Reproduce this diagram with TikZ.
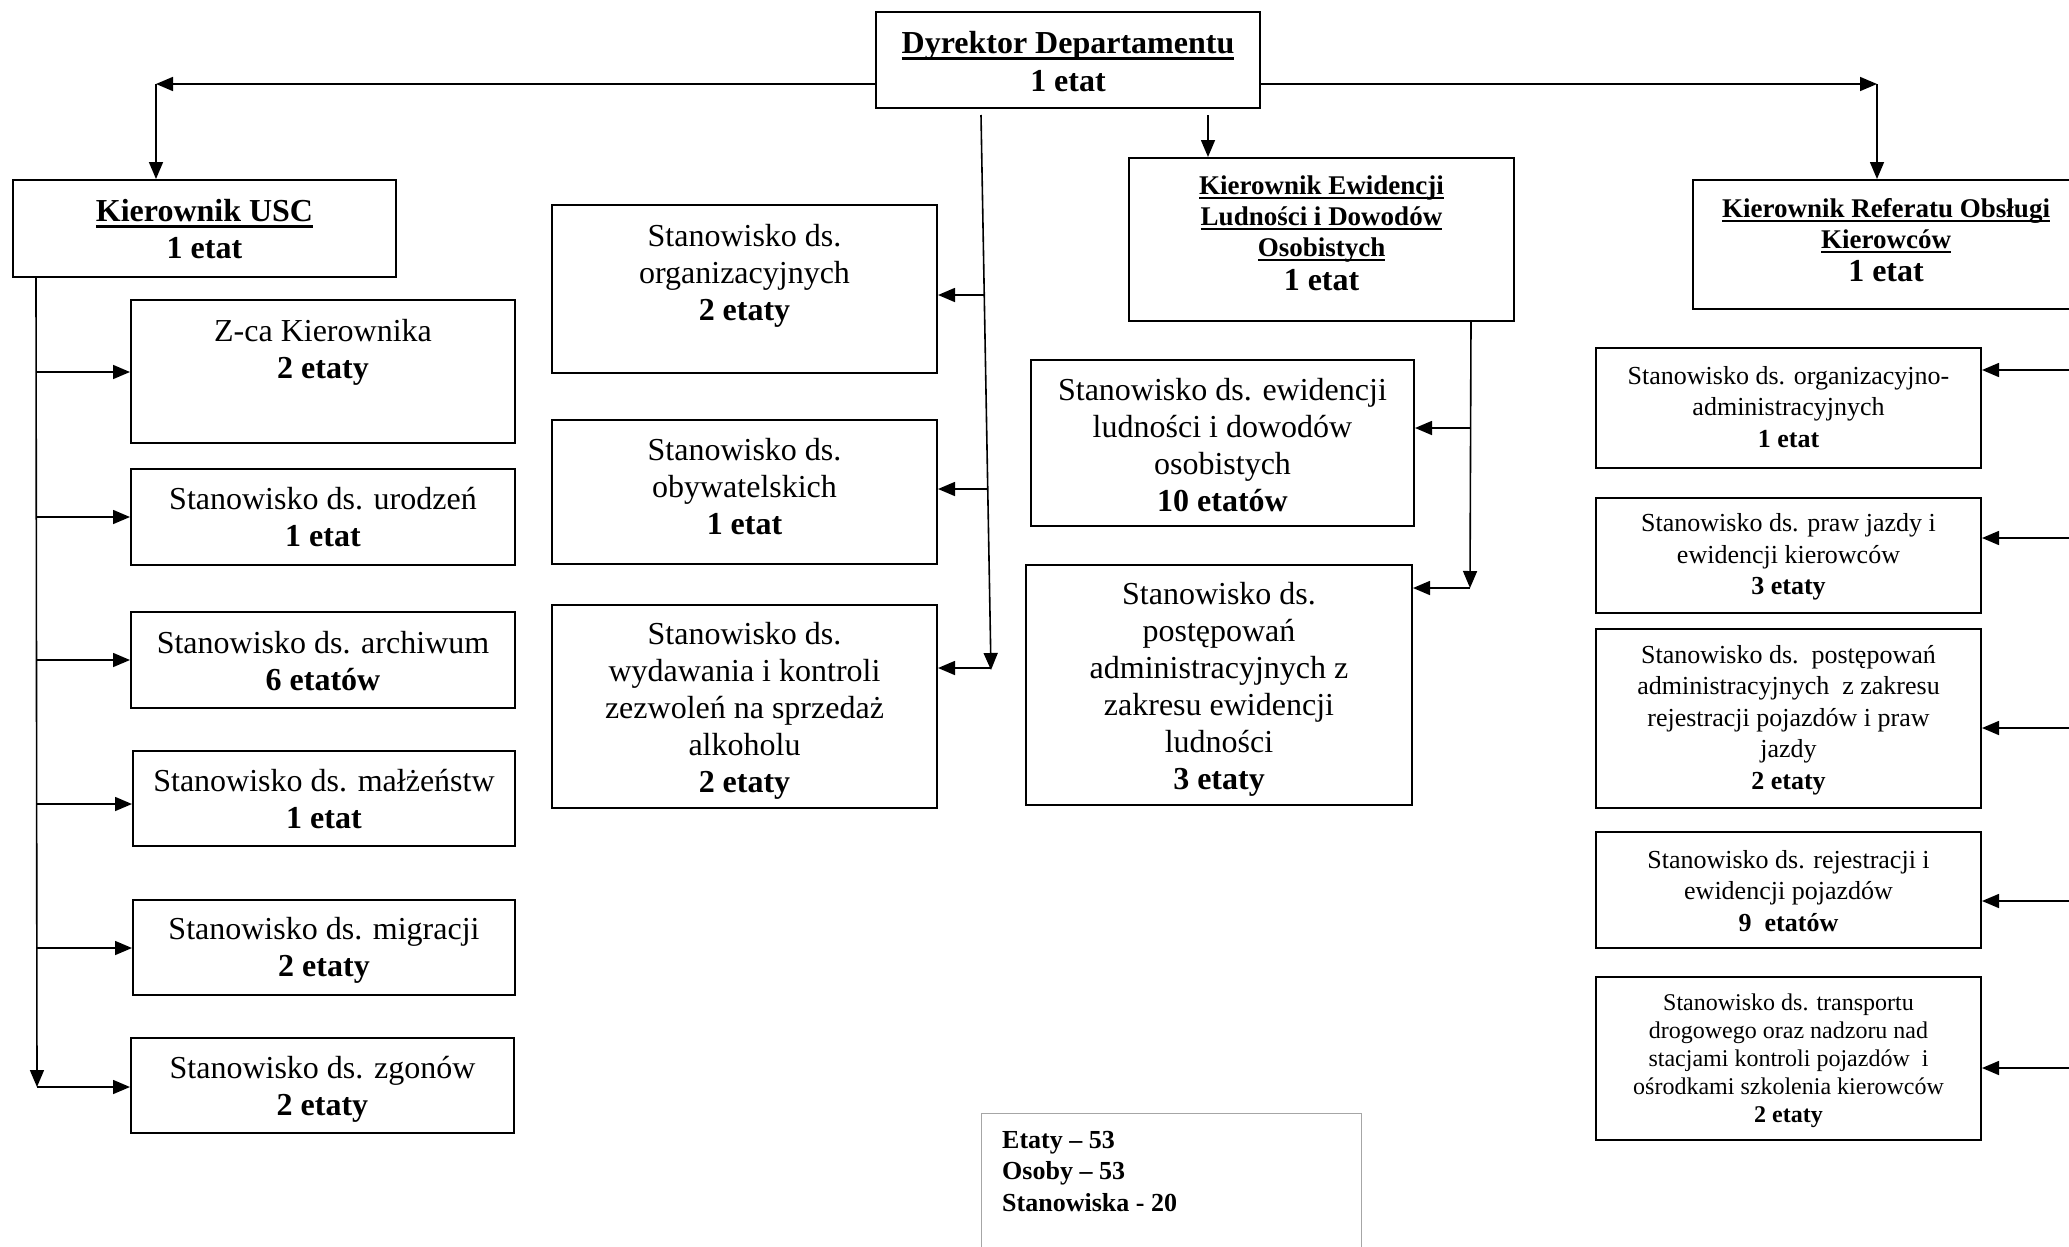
\documentclass[tikz,border=0pt]{standalone}
\usepackage{fontspec}
\setmainfont{Liberation Serif}
\usetikzlibrary{arrows.meta}
\newcommand\myul[1]{\setbox0\hbox{#1}\rlap{\rule[-0.19em]{\wd0}{0.08em}}\box0}
\tikzset{
  box/.style={draw, line width=2pt, rectangle, inner sep=0pt},
  tA/.style={font=\fontsize{32}{37}\selectfont, align=center, inner sep=0pt},
  tB/.style={font=\fontsize{26}{31.5}\selectfont, align=center, inner sep=0pt},
  tC/.style={font=\fontsize{24}{28}\selectfont, align=center, inner sep=0pt},
  tK/.style={font=\fontsize{27}{31}\selectfont\bfseries, align=center, inner sep=0pt},
  arr/.style={line width=1.6pt, -{Triangle[length=17pt,width=14pt]}},
}
\begin{document}
\begin{tikzpicture}[x=1pt,y=-1pt]
\useasboundingbox (0,0) rectangle (2069,1247);

% ---- boxes ----
\node[box, minimum width=384pt, minimum height=96pt] (dyr) at (1068,60) {};
\node[tA, font=\fontsize{32}{38}\selectfont\bfseries] (dyr-t) at (1068,62) {\myul{Dyrektor Departamentu}\\1 etat};

\node[box, minimum width=383pt, minimum height=97pt] (usc) at (204.5,228.5) {};
\node[tA, font=\fontsize{32}{37}\selectfont\bfseries] (usc-t) at (204.5,229) {\myul{Kierownik USC}\\1 etat};

\node[box, minimum width=384pt, minimum height=143pt] (zca) at (323,371.5) {};
\node[tA] (zca-t) at (323,352) {Z-ca Kierownika\\\textbf{2 etaty}};

\node[box, minimum width=384pt, minimum height=96pt] (urod) at (323,517) {};
\node[tA] (urod-t) at (323,517) {Stanowisko ds. urodzeń\\\textbf{1 etat}};

\node[box, minimum width=384pt, minimum height=96pt] (arch) at (323,660) {};
\node[tA] (arch-t) at (323,661) {Stanowisko ds. archiwum\\\textbf{6 etatów}};

\node[box, minimum width=382pt, minimum height=95pt] (malz) at (324,798.5) {};
\node[tA] (malz-t) at (324,799) {Stanowisko ds. małżeństw\\\textbf{1 etat}};

\node[box, minimum width=382pt, minimum height=95pt] (migr) at (324,947.5) {};
\node[tA] (migr-t) at (324,950) {Stanowisko ds. migracji\\\textbf{2 etaty}};

\node[box, minimum width=383pt, minimum height=95pt] (zgon) at (322.5,1085.5) {};
\node[tA] (zgon-t) at (322.5,1089) {Stanowisko ds. zgonów\\\textbf{2 etaty}};

\node[box, minimum width=385pt, minimum height=168pt] (org) at (744.5,289) {};
\node[tA] (org-t) at (744.5,276) {Stanowisko ds.\\organizacyjnych\\\textbf{2 etaty}};

\node[box, minimum width=385pt, minimum height=144pt] (obyw) at (744.5,492) {};
\node[tA] (obyw-t) at (744.5,487) {Stanowisko ds.\\obywatelskich\\\textbf{1 etat}};

\node[box, minimum width=385pt, minimum height=203pt] (wyd) at (744.5,706.5) {};
\node[tA] (wyd-t) at (744.5,711) {Stanowisko ds.\\wydawania i kontroli\\zezwoleń na sprzedaż\\alkoholu\\\textbf{2 etaty}};

\node[box, minimum width=385pt, minimum height=163pt] (kew) at (1321.5,239.5) {};
\node[tK] (kew-t) at (1321.5,233) {\myul{Kierownik Ewidencji}\\\myul{Ludności i Dowodów}\\\myul{Osobistych}\\[3pt]{\fontsize{32}{37}\selectfont 1 etat}};

\node[box, minimum width=383pt, minimum height=166pt] (ludn) at (1222.5,443) {};
\node[tA] (ludn-t) at (1222.5,445) {Stanowisko ds. ewidencji\\ludności i dowodów\\osobistych\\\textbf{10 etatów}};

\node[box, minimum width=386pt, minimum height=240pt] (post) at (1219,685) {};
\node[tA] (post-t) at (1219,689) {Stanowisko ds.\\postępowań\\administracyjnych z\\zakresu ewidencji\\ludności\\\textbf{3 etaty}};

\node[box, minimum width=386pt, minimum height=129pt] (ref) at (1886,244.5) {};
\node[tK] (ref-t) at (1886,240) {\myul{Kierownik Referatu Obsługi}\\\myul{Kierowców}\\[2pt]{\fontsize{32}{37}\selectfont 1 etat}};

\node[box, minimum width=385pt, minimum height=120pt] (oa) at (1788.5,408) {};
\node[tB] (oa-t) at (1788.5,407) {Stanowisko ds. organizacyjno-\\administracyjnych\\\textbf{1 etat}};

\node[box, minimum width=385pt, minimum height=115pt] (praw) at (1788.5,555.5) {};
\node[tB] (praw-t) at (1788.5,557) {Stanowisko ds. praw jazdy i\\ewidencji kierowców\\\textbf{3 etaty}};

\node[box, minimum width=385pt, minimum height=179pt] (prej) at (1788.5,718.5) {};
\node[tB] (prej-t) at (1788.5,720) {Stanowisko ds.\ \ postępowań\\administracyjnych\ \ z zakresu\\rejestracji pojazdów i praw\\jazdy\\\textbf{2 etaty}};

\node[box, minimum width=385pt, minimum height=116pt] (rej) at (1788.5,890) {};
\node[tB] (rej-t) at (1788.5,891) {Stanowisko ds. rejestracji i\\ewidencji pojazdów\\\textbf{9\ \ etatów}};

\node[box, minimum width=385pt, minimum height=163pt] (trans) at (1788.5,1058.5) {};
\node[tC] (trans-t) at (1788.5,1061) {Stanowisko ds. transportu\\drogowego oraz nadzoru nad\\stacjami kontroli pojazdów\ \ i\\ośrodkami szkolenia kierowców\\\textbf{2 etaty}};

\node[draw=black!35, line width=1pt, rectangle, inner sep=0pt, minimum width=380pt, minimum height=170pt, anchor=north west] (sum) at (981,1113) {};
\node[font=\fontsize{26}{31.5}\selectfont\bfseries, align=left, inner sep=0pt, anchor=north west] (sum-t) at (1002,1131) {Etaty – 53\\Osoby – 53\\Stanowiska - 20};

% ---- connectors from Dyrektor ----
\coordinate (cL) at (156,84);
\coordinate (cR) at (1877,84);
\draw[arr] (dyr.west |- cL) -- (cL);
\draw[arr] (cL) -- (usc.north -| cL);
\draw[arr] (dyr.east |- cR) -- (cR);
\draw[arr] (cR) -- (ref.north -| cR);
\coordinate (dK) at (1208,115);
\draw[arr] (dK) -- (kew.north -| dK);

% slanted line to middle column
\coordinate (dM) at (981,115);
\coordinate (dMe) at (991,670);
\draw[arr] (dM) -- (dMe);
\coordinate (m1) at (984.2,295);
\coordinate (m2) at (987.7,489);
\coordinate (m3) at (991,668);
\draw[arr] (m1) -- (org.east |- m1);
\draw[arr] (m2) -- (obyw.east |- m2);
\draw[arr] (m3) -- (wyd.east |- m3);

% USC branch
\coordinate (uTop) at (36,277);
\coordinate (uBot) at (37,1087);
\draw[arr] (uTop) -- (uBot);
\foreach \n/\yy in {zca/372, urod/517, arch/660, malz/804, migr/948, zgon/1087}{
  \draw[arr] (36.5,\yy) -- (\n.west |- 0,\yy);
}

% Ewidencji branch
\coordinate (eTop) at (1471,321);
\coordinate (eBot) at (1470,588);
\draw[arr] (eTop) -- (eBot);
\coordinate (e1) at (1471,428);
\draw[arr] (e1) -- (ludn.east |- e1);
\draw[arr] (eBot) -- (post.east |- eBot);

% Referat branch (source beyond the right edge)
\foreach \n/\yy in {oa/370, praw/538, prej/728, rej/901, trans/1068}{
  \draw[arr] (2085,\yy) -- (\n.east |- 0,\yy);
}
\end{tikzpicture}
\end{document}
